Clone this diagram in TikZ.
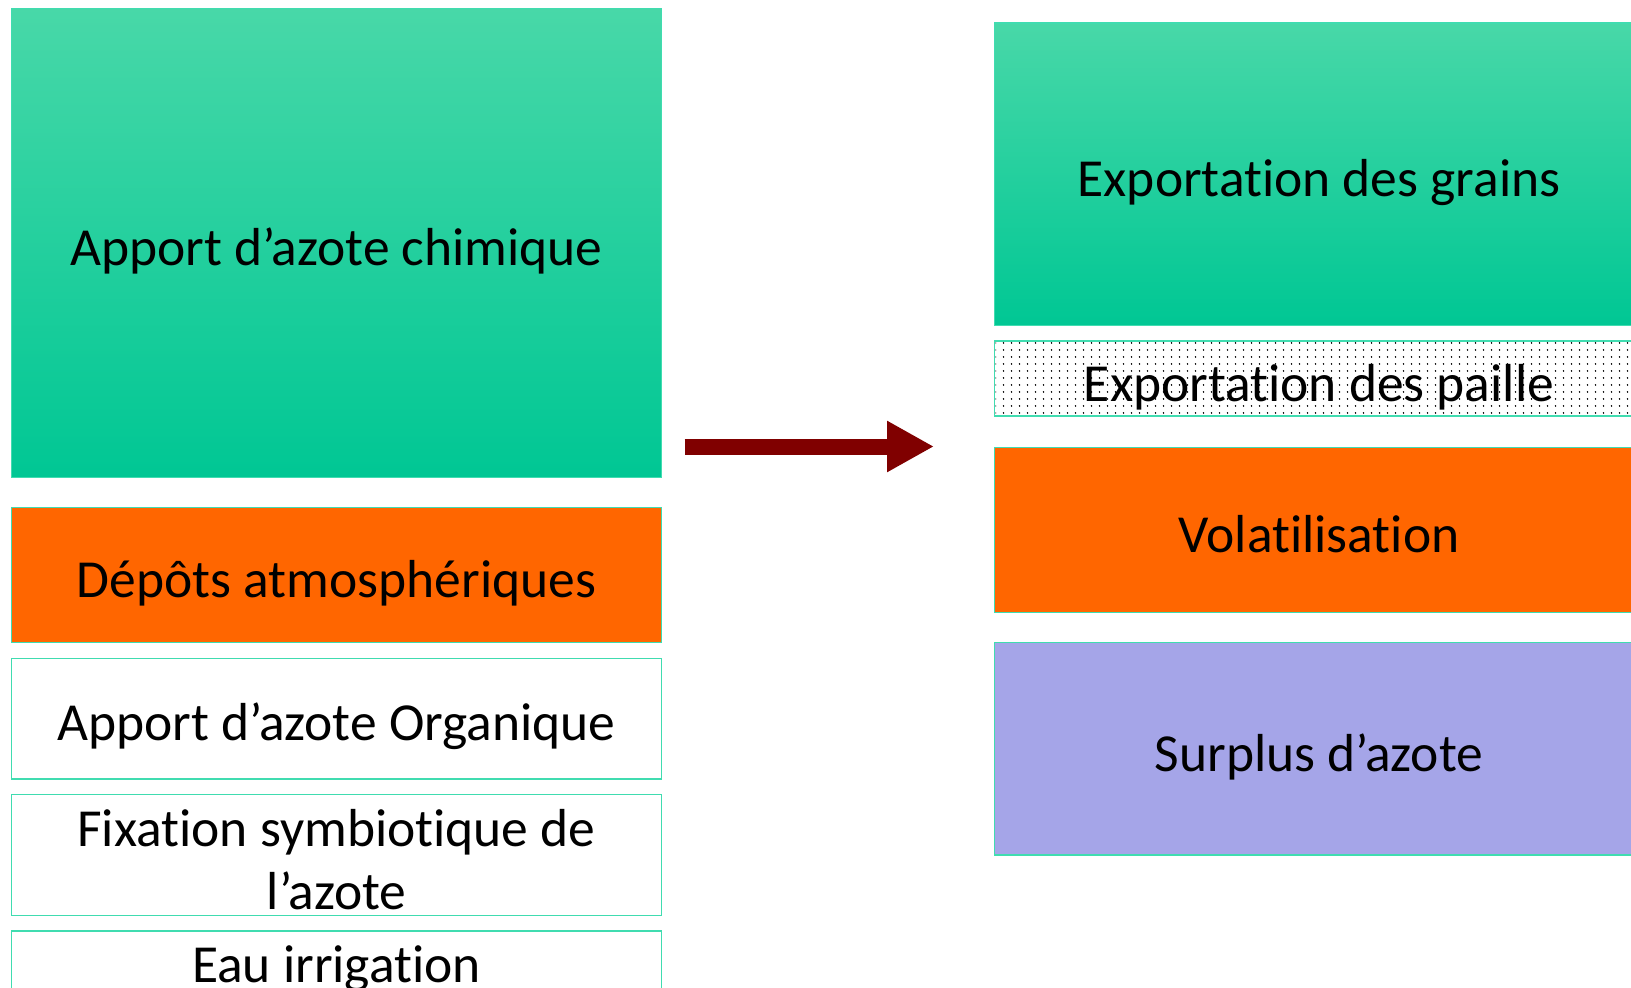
\documentclass[tikz,border=0pt]{standalone}
\usepackage{fontspec}
\setmainfont{Carlito}[RawFeature={-liga;-clig;-calt;-dlig}]
\usetikzlibrary{arrows.meta,patterns}
\definecolor{bordc}{RGB}{64,220,176}
\definecolor{gtop}{RGB}{72,216,168}
\definecolor{gbot}{RGB}{0,199,148}
\definecolor{orng}{RGB}{255,102,0}
\definecolor{purp}{RGB}{165,165,232}
\definecolor{darkred}{RGB}{128,0,0}
\pgfdeclarepatternformonly{mydots}{\pgfpointorigin}{\pgfpoint{8pt}{6.5pt}}{\pgfpoint{8pt}{6.5pt}}{%
  \pgfpathcircle{\pgfpoint{4pt}{3.25pt}}{0.95pt}\pgfusepath{fill}}
\tikzset{
  boxbase/.style={draw=bordc, line width=1.3pt},
  greenbox/.style={boxbase, top color=gtop, bottom color=gbot},
  orangebox/.style={boxbase, fill=orng},
  whitebox/.style={boxbase, fill=white},
  purplebox/.style={boxbase, fill=purp},
  dotbox/.style={boxbase, fill=white},
  lbl/.style={font=\fontsize{53.5}{62.5}\selectfont, align=center, text=black, inner sep=0pt},
  bigarrow/.style={draw=darkred, line width=16pt, -{Triangle[length=47pt,width=48pt]}}
}
\begin{document}
\begin{tikzpicture}[x=1pt,y=-1pt]
\useasboundingbox (0,0) rectangle (1631,988);
\clip (0,0) rectangle (1631,988);
\fill[white] (0,0) rectangle (1631,988);
% left column
\draw[greenbox] (11.4,8.3) rectangle (661.6,477.5);
\node[lbl] (chim) at (336.5,251) {Apport d’azote chimique};
\draw[orangebox] (11.4,507.6) rectangle (661.6,642.8);
\node[lbl] (atm) at (336.5,583) {Dépôts atmosphériques};
\draw[whitebox] (11.4,658.5) rectangle (661.6,779);
\node[lbl] (org) at (336.5,726) {Apport d’azote Organique};
\draw[whitebox] (11.4,794.7) rectangle (661.6,915.4);
\node[lbl] (fix) at (336.5,859.5) {Fixation symbiotique de\\l’azote};
\draw[whitebox] (11.4,931) rectangle (661.6,1052);
\node[lbl] (eau) at (336.5,969) {Eau irrigation};
% right column
\draw[greenbox] (994.5,22.9) rectangle (1644,325.6);
\node[lbl] (grains) at (1319,183) {Exportation des grains};
\draw[dotbox] (994.5,341) rectangle (1644,416);
\fill[pattern=mydots, pattern color=black] (995.5,342) rectangle (1643,415);
\draw[boxbase] (994.5,341) rectangle (1644,416);
\node[lbl] (paille) at (1319,387) {Exportation des paille};
\draw[orangebox] (994.5,447.3) rectangle (1644,612.7);
\node[lbl] (vol) at (1319,534) {Volatilisation};
\draw[purplebox] (994.5,642.8) rectangle (1644,855);
\node[lbl] (surp) at (1319,757) {Surplus d’azote};
% arrow
\coordinate (astart) at (684.5,446.5);
\coordinate (aend) at (934,446.5);
\draw[bigarrow] (astart) -- (aend);
\end{tikzpicture}
\end{document}
